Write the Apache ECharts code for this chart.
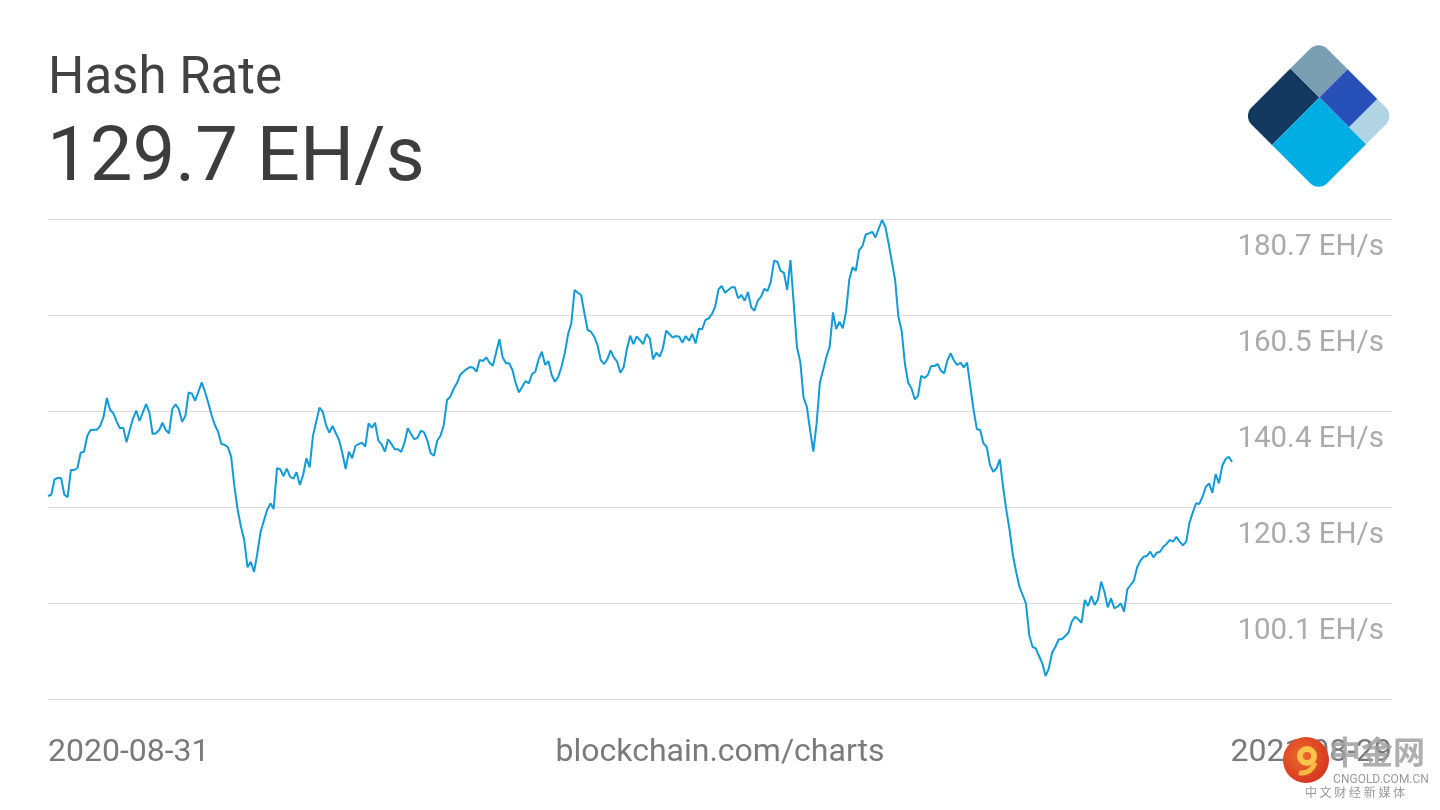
<!DOCTYPE html>
<html>
<head>
<meta charset="utf-8">
<script src="https://cdn.jsdelivr.net/npm/echarts@6/dist/echarts.min.js"></script>
<style>
html,body{margin:0;padding:0;background:#fff;}
#chart{width:1440px;height:810px;}
</style>
</head>
<body>
<div id="chart"></div>
<script>
const titleText = 'Hash Rate';
const currentText = '129.7 EH/s';
const sourceText = 'blockchain.com/charts';
const xLabels = ['2020-08-31', '2021-08-29'];
const yTickLabels = ['', '100.1 EH/s', '120.3 EH/s', '140.4 EH/s', '160.5 EH/s', '180.7 EH/s'];
const yMin = 79.95;
const yMax = 180.7;

// daily hash rate (EH/s), 2020-08-31 .. 2021-08-29
const hashRate = [
  122.56, 122.83, 126.06, 126.34, 126.34, 122.83, 122.29, 128.02, 128.02, 128.44,
  131.65, 131.86, 135.15, 136.41, 136.48, 136.48, 137.32, 139.21, 143.13, 140.61,
  139.92, 138.15, 136.77, 136.89, 133.83, 136.41, 138.87, 140.46, 138.30, 140.13,
  141.87, 140.04, 135.57, 135.72, 136.41, 137.94, 136.41, 135.72, 140.82, 141.81,
  140.76, 138.15, 139.35, 144.32, 144.03, 142.56, 144.45, 146.42, 144.45, 142.14,
  139.56, 137.46, 136.05, 133.47, 133.32, 132.78, 130.81, 124.51, 119.62, 116.11,
  113.32, 107.60, 108.77, 106.61, 110.53, 115.06, 117.36, 119.62, 121.02, 119.83,
  128.37, 128.16, 126.76, 128.29, 126.60, 126.18, 127.53, 124.87, 126.97, 130.47,
  128.56, 135.15, 138.15, 141.09, 140.25, 137.46, 135.84, 137.25, 135.72, 134.31,
  131.52, 128.23, 131.86, 130.47, 133.05, 133.47, 133.75, 132.91, 137.82, 136.89,
  137.94, 134.17, 133.41, 131.86, 134.46, 133.47, 132.36, 132.36, 131.79, 133.75,
  136.77, 135.57, 134.46, 134.80, 136.26, 135.92, 134.17, 131.52, 131.02, 134.17,
  135.22, 137.46, 142.70, 143.40, 145.02, 146.21, 147.95, 148.65, 149.21, 149.63,
  149.49, 148.65, 151.10, 150.89, 151.67, 150.54, 149.91, 152.64, 155.45, 151.67,
  150.41, 150.41, 149.00, 146.21, 144.32, 145.50, 146.70, 146.21, 148.17, 148.65,
  151.25, 152.85, 150.06, 150.89, 147.95, 146.55, 147.60, 149.70, 152.51, 156.50,
  158.81, 165.80, 165.23, 164.75, 160.91, 157.40, 157.05, 156.00, 154.25, 151.10,
  150.26, 151.25, 153.14, 151.67, 150.75, 148.44, 149.57, 153.41, 156.21, 154.45,
  156.08, 155.27,
  154.46, 156.56, 155.58, 151.25, 152.64, 151.80, 153.56, 157.26, 156.56,
  155.79, 156.14, 156.00, 154.74, 156.14, 155.15, 156.56, 154.61, 157.68, 157.55,
  159.50, 159.86, 160.76, 162.29, 165.94, 166.64, 165.23, 165.80, 166.36, 166.36,
  164.05, 164.75, 163.55, 165.38, 162.17, 161.45, 163.55, 164.39, 166.04, 165.61,
  167.55, 171.95, 171.74, 169.79, 169.43, 165.80, 172.09, 163.00, 153.77, 150.75,
  143.27, 141.30, 136.41, 131.86, 137.82, 146.34, 149.00, 151.80, 153.90, 161.11,
  157.61, 159.14, 157.76, 161.24, 168.04, 170.56, 169.85, 174.16, 175.00, 177.46,
  177.66, 178.01, 176.82, 178.75, 180.49, 179.08, 175.60, 171.74, 167.90, 160.19,
  157.26, 150.26, 146.34, 145.16, 142.85, 143.55, 147.81, 147.33, 147.96, 149.84,
  149.84, 150.26, 148.86, 148.30, 151.07,
  152.51, 150.96, 150.05, 150.54, 149.57, 150.54, 145.50, 140.61, 136.56, 136.41,
  133.62, 132.91, 129.06, 127.66, 128.37, 130.26, 124.51, 119.62, 115.42, 110.17,
  106.67, 103.52, 101.78, 100.03, 93.38, 90.92, 90.59, 88.97, 87.44, 84.77,
  86.39, 89.66, 90.92, 92.48, 92.48, 93.17, 93.86, 96.17, 97.22, 96.67,
  95.96, 100.73, 99.47, 101.57, 99.68, 100.85, 104.56, 102.46, 99.18, 101.07,
  98.99, 99.32, 100.03, 98.27, 102.97, 103.88, 104.78, 107.59, 108.98, 109.82,
  109.97, 110.87, 109.69, 110.66, 110.87, 111.92, 112.49, 113.33, 112.97, 114.02,
  112.97, 112.21, 112.97, 116.96, 119.06, 121.03, 120.88, 122.41, 124.51, 125.22,
  123.25, 127.16, 125.22, 128.85, 130.26, 130.81, 129.7
];

const chart = echarts.init(document.getElementById('chart'), null, {renderer: 'canvas'});
const FONT = 'Roboto, "Noto Sans", sans-serif';
const n = hashRate.length;
// x extent leaves room on the right for the value labels (data spans 48..1232 of 48..1392)
const xMax = (n - 1) * 1344 / 1184;

const option = {
  backgroundColor: '#ffffff',
  animation: false,
  grid: {left: 48, right: 48, top: 219, bottom: 111, containLabel: false},
  xAxis: {type: 'value', min: 0, max: xMax, show: false},
  yAxis: [
    {type: 'value', min: yMin, max: yMax, show: false},
    {
      type: 'value', min: 0, max: 5, interval: 1, position: 'right',
      axisLine: {show: false}, axisTick: {show: false},
      splitLine: {show: true, lineStyle: {color: '#dcdcdc', width: 1}},
      axisLabel: {
        inside: true, margin: 8,
        formatter: v => yTickLabels[v] || '',
        color: '#ababab', fontSize: 29.5, fontFamily: FONT,
        verticalAlign: 'top', padding: [14, 0, 0, 0]
      }
    }
  ],
  series: [{
    type: 'line',
    yAxisIndex: 0,
    showSymbol: false,
    symbol: 'none',
    lineStyle: {color: '#129bd7', width: 2},
    data: hashRate.map((v, i) => [i, v])
  }],
  graphic: [
    {type: 'text', x: 48, y: 80, style: {text: titleText, fill: '#424242', font: '51px ' + FONT, verticalAlign: 'middle', align: 'left'}},
    {type: 'text', x: 47, y: 161, style: {text: currentText, fill: '#3d3d3d', font: '76px ' + FONT, verticalAlign: 'middle', align: 'left'}},
    {type: 'text', x: 48, y: 753, style: {text: xLabels[0], fill: '#7a7a7a', font: '32px ' + FONT, verticalAlign: 'middle', align: 'left'}},
    {type: 'text', x: 720, y: 753, style: {text: sourceText, fill: '#7a7a7a', font: '32px ' + FONT, verticalAlign: 'middle', align: 'center'}},
    {type: 'text', x: 1392, y: 753, style: {text: xLabels[1], fill: '#7a7a7a', font: '32px ' + FONT, verticalAlign: 'middle', align: 'right'}},
    {
      type: 'group', x: 1243, y: 116, rotation: Math.PI / 4,
      children: [
        {type: 'rect', shape: {x: 0, y: 0, width: 67, height: 41, r: [12, 0, 0, 0]}, style: {fill: '#133961'}},
        {type: 'rect', shape: {x: 67, y: 0, width: 40, height: 41, r: [0, 12, 0, 0]}, style: {fill: '#799eb2'}},
        {type: 'rect', shape: {x: 67, y: 41, width: 40, height: 42, r: 0}, style: {fill: '#2751b9'}},
        {type: 'rect', shape: {x: 67, y: 83, width: 40, height: 24, r: [0, 0, 12, 0]}, style: {fill: '#b1d4e5'}},
        {type: 'rect', shape: {x: 0, y: 41, width: 67, height: 66, r: [0, 0, 0, 12]}, style: {fill: '#00aee3'}}
      ]
    },
    // watermark overlay
    {type: 'text', x: 1377, y: 752, style: {text: '中金网', fill: 'rgba(160,160,160,0.85)', font: 'bold 32px "Noto Sans CJK SC", sans-serif', verticalAlign: 'middle', align: 'center'}},
    {type: 'circle', shape: {cx: 1306, cy: 760, r: 23}, style: {fill: {type: 'radial', x: 0.4, y: 0.4, r: 0.7, colorStops: [{offset: 0, color: '#f06a2a'}, {offset: 1, color: '#d2301f'}]}}},
    {type: 'arc', shape: {cx: 1307, cy: 756, r: 7, startAngle: 0, endAngle: Math.PI * 2}, style: {stroke: '#f7c64a', lineWidth: 6, fill: null}},
    {type: 'arc', shape: {cx: 1302, cy: 760, r: 13, startAngle: 0.2, endAngle: 1.8}, style: {stroke: '#f5b843', lineWidth: 5, fill: null}},
    {type: 'text', x: 1381, y: 780, style: {text: 'CNGOLD.COM.CN', fill: '#9a9a9a', font: '12px ' + FONT, verticalAlign: 'middle', align: 'center'}},
    {type: 'text', x: 1355, y: 792, style: {text: '中 文 财 经 新 媒 体', fill: '#9a9a9a', font: '12px "Noto Sans CJK SC", sans-serif', verticalAlign: 'middle', align: 'center'}}
  ]
};
chart.setOption(option);
</script>
</body>
</html>
